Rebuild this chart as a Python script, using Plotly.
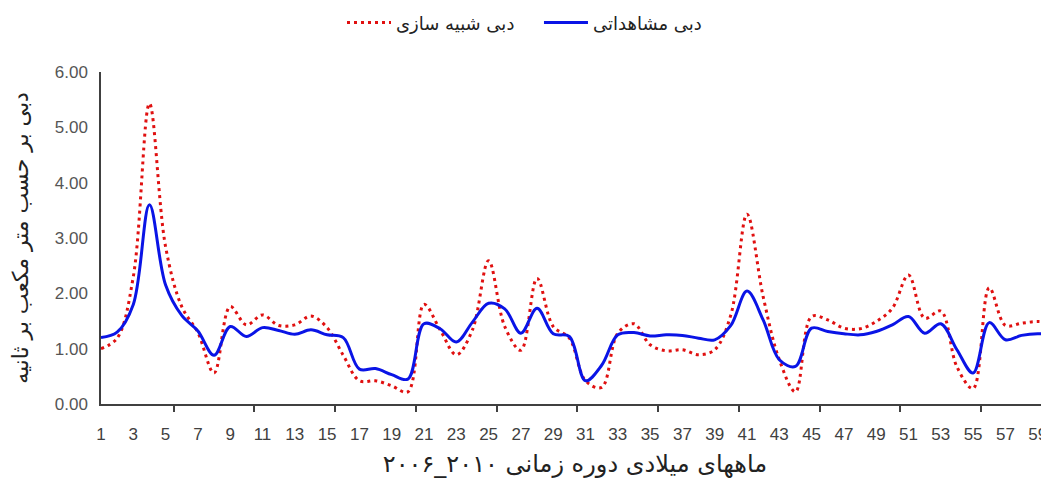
import plotly.graph_objects as go

months = list(range(1, 61))

observed = [1.20, 1.30, 1.80, 3.60, 2.15, 1.60, 1.32, 0.88, 1.40, 1.22,
            1.38, 1.33, 1.26, 1.34, 1.25, 1.20, 0.63, 0.64, 0.53, 0.45,
            1.45, 1.36, 1.12, 1.48, 1.82, 1.72, 1.28, 1.73, 1.27, 1.22,
            0.42, 0.70, 1.25, 1.29, 1.23, 1.25, 1.24, 1.19, 1.16, 1.42,
            2.04, 1.52, 0.80, 0.68, 1.37, 1.31, 1.27, 1.25, 1.31, 1.43,
            1.58, 1.28, 1.45, 0.98, 0.56, 1.47, 1.16, 1.24, 1.27, 1.25]

simulated = [1.00, 1.19, 2.30, 5.43, 2.84, 1.76, 1.29, 0.56, 1.76, 1.43,
             1.61, 1.42, 1.43, 1.59, 1.38, 0.88, 0.42, 0.42, 0.33, 0.22,
             1.80, 1.34, 0.89, 1.34, 2.59, 1.40, 0.97, 2.27, 1.40, 1.19,
             0.42, 0.30, 1.28, 1.45, 1.07, 0.96, 0.98, 0.89, 0.98, 1.61,
             3.43, 1.94, 0.80, 0.22, 1.58, 1.52, 1.37, 1.36, 1.49, 1.73,
             2.33, 1.55, 1.68, 0.67, 0.28, 2.10, 1.42, 1.46, 1.49, 1.46]

x_tick_vals = list(range(1, 60, 2))
x_tick_text = [str(v) for v in x_tick_vals]

name_sim = "دبی شبیه سازی"
name_obs = "دبی مشاهداتی"
x_title = "ماههای میلادی دوره زمانی ۲۰۱۰_۲۰۰۶"
y_title = "دبی بر حسب متر مکعب بر ثانیه"

fig = go.Figure()
fig.add_trace(go.Scatter(
    x=months, y=simulated, name=name_sim, mode="lines",
    line=dict(color="#e01010", width=3, dash="3px,4px", shape="spline", smoothing=1.0),
))
fig.add_trace(go.Scatter(
    x=months, y=observed, name=name_obs, mode="lines",
    line=dict(color="#0a14e6", width=3, shape="spline", smoothing=1.0),
))

# page body has an 8px default margin, so the figure is sized/offset to compensate
fig.update_layout(
    width=1041, height=477,
    margin=dict(l=93, r=0, t=64, b=81, autoexpand=False),
    paper_bgcolor="white", plot_bgcolor="white",
    font=dict(family="Liberation Sans, DejaVu Sans", size=15, color="#404040"),
    showlegend=True,
    legend=dict(orientation="h", x=0.462, y=1.148, xanchor="center", yanchor="middle",
                font=dict(family="DejaVu Sans", size=18, color="#222222"),
                itemwidth=44, entrywidth=138, traceorder="normal"),
)
fig.update_xaxes(
    range=[1, 59.7], tickmode="array", tickvals=x_tick_vals, ticktext=x_tick_text,
    ticks="", showgrid=False, zeroline=False, automargin=False,
    showline=True, linecolor="#404040", linewidth=1.5,
    tickfont=dict(size=17, color="#404040"), ticklabelstandoff=14,
    minor=dict(tick0=0.5, dtick=5, ticks="outside", ticklen=6, tickcolor="#404040", tickwidth=1.5, showgrid=False),
    title=dict(text=x_title, font=dict(family="DejaVu Sans", size=24, color="#222222"), standoff=12),
)
fig.update_yaxes(
    range=[0, 6], dtick=1, tickformat=".2f", ticks="", showgrid=False, zeroline=False, automargin=False,
    showline=True, linecolor="#404040", linewidth=1.5,
    tickfont=dict(size=17, color="#555555"), ticklabelstandoff=8,
    title=dict(text=y_title, font=dict(family="DejaVu Sans", size=22, color="#222222"), standoff=22),
)

fig.write_html("out.html")
